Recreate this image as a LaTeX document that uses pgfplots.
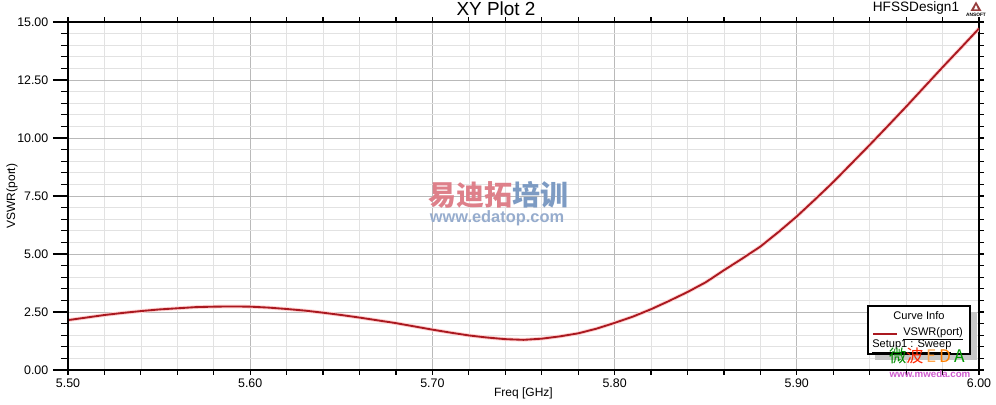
\documentclass[border=0pt]{standalone}
\usepackage{pgfplots}
\pgfplotsset{compat=1.18}
\usepackage{fontspec}
\setmainfont{Liberation Sans}
\newfontfamily\cjk{Noto Sans CJK SC}

\definecolor{vswr}{RGB}{170,25,32}
\definecolor{gridmaj}{RGB}{185,185,185}
\definecolor{gridmin}{RGB}{226,226,226}
\definecolor{wmpink}{RGB}{222,128,138}
\definecolor{wmblue}{RGB}{125,155,195}
\definecolor{wmurl}{RGB}{150,172,205}
\definecolor{mwpurple}{RGB}{205,90,205}
\definecolor{ansoft}{RGB}{150,60,60}

\pgfplotstableread{
f      v
5.50   2.15
5.51   2.26
5.52   2.37
5.53   2.46
5.54   2.54
5.55   2.61
5.56   2.66
5.57   2.71
5.58   2.73
5.59   2.74
5.60   2.73
5.61   2.69
5.62   2.63
5.63   2.56
5.64   2.47
5.65   2.37
5.66   2.26
5.67   2.14
5.68   2.02
5.69   1.88
5.70   1.74
5.71   1.61
5.72   1.49
5.73   1.40
5.74   1.33
5.75   1.30
5.76   1.35
5.77   1.45
5.78   1.58
5.79   1.78
5.80   2.03
5.81   2.30
5.82   2.62
5.83   2.98
5.84   3.36
5.85   3.78
5.86   4.30
5.87   4.80
5.88   5.32
5.89   5.95
5.90   6.62
5.91   7.35
5.92   8.10
5.93   8.90
5.94   9.70
5.95   10.52
5.96   11.35
5.97   12.20
5.98   13.05
5.99   13.88
6.00   14.72
}\vswrdata

\begin{document}
\begin{tikzpicture}

% main axis: grid, x ticks, curve
\begin{axis}[
at={(0,0)}, anchor=south west,
scale only axis,
width=683.25pt, height=261pt,
xmin=5.5, xmax=6.0, ymin=0, ymax=15,
xtick={5.5,5.6,5.7,5.8,5.9,6.0},
ytick={0,2.5,5,7.5,10,12.5,15},
minor x tick num=4, minor y tick num=4,
grid=both,
major grid style={color=gridmaj, line width=0.5pt},
minor grid style={color=gridmin, line width=0.5pt},
tick align=outside,
major tick length=3.5pt, minor tick length=3.5pt,
tick style={black, line width=0.9pt},
axis line style={black, line width=1pt},
yticklabels={},
xticklabel style={font=\fontsize{9.3}{10}\selectfont, yshift=0.5pt,
  /pgf/number format/.cd, fixed, fixed zerofill, precision=2, assume math mode=true},
xlabel={Freq [GHz]},
xlabel style={font=\fontsize{9}{10}\selectfont, at={(axis description cs:0.5,0)}, anchor=center, yshift=-17.25pt},
]
\addplot[vswr, line width=1.4pt, preaction={draw, red!18, line width=2.8pt}] table[x=f, y=v] {\vswrdata};
\end{axis}

% overlay axis: long outside y ticks and their labels
\begin{axis}[
at={(0,0)}, anchor=south west,
scale only axis,
width=683.25pt, height=261pt,
xmin=5.5, xmax=6.0, ymin=0, ymax=15,
axis x line=none,
axis y line*=left,
ytick={0,2.5,5,7.5,10,12.5,15},
minor y tick num=4,
tick align=outside,
major tick length=11.25pt, minor tick length=5.25pt,
tick style={black, line width=0.9pt},
axis line style={black, line width=1pt, -},
yticklabel style={font=\fontsize{9.3}{10}\selectfont,
  /pgf/number format/.cd, fixed, fixed zerofill, precision=2, assume math mode=true},
]
\end{axis}

% titles, legend box and marks, in picture pixels
\begin{scope}[xshift=-51pt, yshift=277.5pt, x=0.75pt, y=-0.75pt]
  \node[font=\fontsize{14.2}{15}\selectfont, inner sep=0pt] at (496,9) {XY Plot 2};
  \node[font=\fontsize{9}{10}\selectfont, rotate=90, inner sep=0pt] at (12,196) {VSWR(port)};
  \node[font=\fontsize{10.2}{11}\selectfont, anchor=center] at (916,8) {HFSSDesign1};
  % ansoft logo
  \fill[ansoft] (976,1.5) -- (970.5,11) -- (981.5,11) -- cycle;
  \fill[white] (976,5) -- (974,9.5) -- (978,9.5) -- cycle;
  \node[font=\bfseries\fontsize{3.6}{4}\selectfont, text=black, inner sep=0pt] at (976,14.5) {ANSOFT};
  % watermark
  \node[font=\cjk\bfseries\fontsize{21}{22}\selectfont, inner sep=0pt] at (498,195)
    {\textcolor{wmpink}{易迪拓}\textcolor{wmblue}{培训}};
  \node[font=\bfseries\fontsize{12.3}{13}\selectfont, text=wmurl, inner sep=0pt] at (497,218) {www.edatop.com};
  % curve info box
  \fill[gray!45] (875,312) rectangle (977,360);
  \draw[black, line width=0.8pt, fill=white] (868,306) rectangle (970,354);
  \node[font=\fontsize{8.3}{9}\selectfont, inner sep=0pt] at (919,316) {Curve Info};
  \draw[vswr, line width=1.4pt] (873,334) -- (897,334);
  \node[font=\fontsize{8.3}{9}\selectfont, anchor=west, inner sep=0pt] at (903,334) {\underline{VSWR(port)}};
  \node[font=\fontsize{8.3}{9}\selectfont, anchor=west, inner sep=0pt] at (872,346.5) {\underline{Setup1 : Sweep}};
  % second watermark
  \node[font=\cjk\fontsize{13}{14}\selectfont, inner sep=0pt, anchor=west] at (889,356)
    {\textcolor{green!55!black}{微}\textcolor{red!70!orange}{波}\,\textcolor{orange!70}{E}\,\textcolor{orange}{D}\,\textcolor{green!60!black}{A}};
  \node[font=\bfseries\fontsize{7.3}{8}\selectfont, text=mwpurple, inner sep=0pt] at (930,374.5) {www.mweda.com};
  \pgfresetboundingbox
  \path[use as bounding box] (0,0) rectangle (996,404);
\end{scope}

\end{tikzpicture}
\end{document}
